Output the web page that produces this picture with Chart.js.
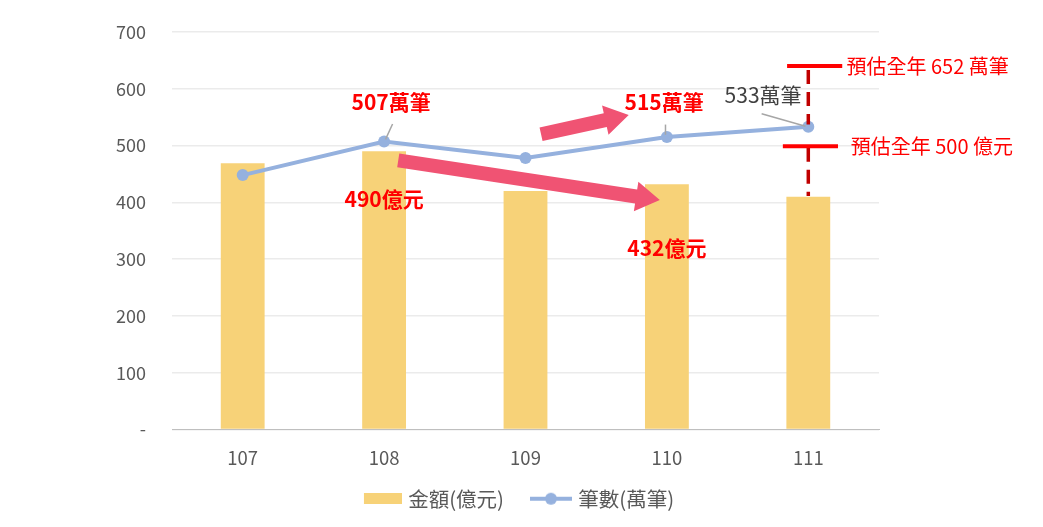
<!DOCTYPE html>
<html>
<head>
<meta charset="utf-8">
<script src="https://cdn.jsdelivr.net/npm/chart.js@4.4.1/dist/chart.umd.min.js"></script>
<style>
  html, body { margin: 0; padding: 0; background: #fff; }
  #wrap { width: 1043px; height: 527px; }
</style>
</head>
<body>
<div id="wrap"><canvas id="chart" width="1043" height="527"></canvas></div>
<script>
// Chart data
const years = ['107', '108', '109', '110', '111'];
const amounts = [469, 490, 420, 432, 410];   // 金額(億元)
const counts = [448, 507, 478, 515, 533];    // 筆數(萬筆)
const yTicks = [0, 100, 200, 300, 400, 500, 600, 700];

// Annotation layout in data space (category index, value)
const redLabels = [
  { text: '507萬筆', x: 1.05, y: 577, color: '#FF0000', bold: true },
  { text: '490億元', x: 1.0, y: 406, color: '#FF0000', bold: true },
  { text: '515萬筆', x: 2.98, y: 577, color: '#FF0000', bold: true },
  { text: '432億元', x: 3.0, y: 319, color: '#FF0000', bold: true },
  { text: '533萬筆', x: 3.68, y: 589, color: '#404040', bold: false }
];
const leaders = [
  [1.06, 538, 1.01, 511],
  [2.99, 537, 2.99, 519],
  [3.67, 556, 3.98, 534]
];
const arrows = [
  [1.10, 474, 2.95, 404],
  [2.11, 520, 2.73, 554]
];
const forecasts = [
  { text: '預估全年 652 萬筆', value: 640, x1: 3.85, x2: 4.24, lx: 4.27 },
  { text: '預估全年 500 億元', value: 499, x1: 3.82, x2: 4.21, lx: 4.30 }
];
const dashSegments = [[633, 537], [496, 411]];

const FONT = '"Noto Sans CJK TC", "Noto Sans", sans-serif';
const SWATCH_W = 53;   // legend box width
const IMG_W = 61;      // swatch image, a bit wider than the box so it sits close to the text

// legend swatches (transparent on the left to space the items out)
function lineSwatch() {
  const c = document.createElement('canvas');
  c.width = IMG_W; c.height = 14;
  const g = c.getContext('2d');
  g.strokeStyle = '#95B1DE';
  g.lineWidth = 4;
  g.beginPath(); g.moveTo(IMG_W - 42, 7); g.lineTo(IMG_W, 7); g.stroke();
  g.fillStyle = '#95B1DE';
  g.beginPath(); g.arc(IMG_W - 21, 7, 6, 0, Math.PI * 2); g.fill();
  return c;
}
function barSwatch() {
  const c = document.createElement('canvas');
  c.width = IMG_W; c.height = 11;
  const g = c.getContext('2d');
  g.fillStyle = '#F7D278';
  g.fillRect(IMG_W - 38, 0, 38, 11);
  return c;
}

const annotatePlugin = {
  id: 'annotate',
  afterDatasetsDraw(chart) {
    const ctx = chart.ctx;
    const xs = chart.scales.x, ys = chart.scales.y;
    const px = v => xs.getPixelForValue(v);
    const py = v => ys.getPixelForValue(v);
    ctx.save();

    // arrows
    ctx.fillStyle = '#F05373';
    arrows.forEach(a => {
      const x1 = px(a[0]), y1 = py(a[1]), x2 = px(a[2]), y2 = py(a[3]);
      const ang = Math.atan2(y2 - y1, x2 - x1);
      const len = Math.hypot(x2 - x1, y2 - y1);
      const head = 24, sw = 7, hw = 15;
      ctx.save();
      ctx.translate(x1, y1);
      ctx.rotate(ang);
      ctx.beginPath();
      ctx.moveTo(0, -sw);
      ctx.lineTo(len - head, -sw);
      ctx.lineTo(len - head, -hw);
      ctx.lineTo(len, 0);
      ctx.lineTo(len - head, hw);
      ctx.lineTo(len - head, sw);
      ctx.lineTo(0, sw);
      ctx.closePath();
      ctx.fill();
      ctx.restore();
    });

    // leader lines
    ctx.strokeStyle = '#A6A6A6';
    ctx.lineWidth = 1.5;
    leaders.forEach(l => {
      ctx.beginPath();
      ctx.moveTo(px(l[0]), py(l[1]));
      ctx.lineTo(px(l[2]), py(l[3]));
      ctx.stroke();
    });

    // forecast dashed line at last year
    const lx = px(4);
    ctx.strokeStyle = '#C00000';
    ctx.lineWidth = 3.5;
    ctx.setLineDash([14, 8]);
    dashSegments.forEach(s => {
      ctx.beginPath();
      ctx.moveTo(lx, py(s[0]));
      ctx.lineTo(lx, py(s[1]));
      ctx.stroke();
    });
    ctx.setLineDash([]);

    ctx.strokeStyle = '#FF0000';
    ctx.lineWidth = 4;
    ctx.font = '20px ' + FONT;
    ctx.textBaseline = 'middle';
    ctx.textAlign = 'left';
    forecasts.forEach(f => {
      const y = py(f.value);
      ctx.beginPath();
      ctx.moveTo(px(f.x1), y);
      ctx.lineTo(px(f.x2), y);
      ctx.stroke();
      ctx.fillStyle = '#FF0000';
      ctx.fillText(f.text, px(f.lx), y);
    });

    // value labels
    ctx.textAlign = 'center';
    redLabels.forEach(l => {
      ctx.font = (l.bold ? 'bold ' : '') + '21px ' + FONT;
      ctx.fillStyle = l.color;
      ctx.fillText(l.text, px(l.x), py(l.y));
    });
    ctx.restore();
  }
};

new Chart(document.getElementById('chart'), {
  data: {
    labels: years,
    datasets: [
      {
        type: 'line',
        label: '筆數(萬筆)',
        data: counts,
        borderColor: '#95B1DE',
        backgroundColor: '#95B1DE',
        borderWidth: 4,
        pointRadius: 6,
        pointBackgroundColor: '#95B1DE',
        pointBorderWidth: 0,
        tension: 0,
        order: 1
      },
      {
        type: 'bar',
        label: '金額(億元)',
        data: amounts,
        backgroundColor: '#F7D278',
        categoryPercentage: 1,
        barPercentage: 0.31,
        order: 2
      }
    ]
  },
  options: {
    responsive: false,
    animation: false,
    layout: { padding: { left: 0, right: 24, top: 32, bottom: 8 } },
    scales: {
      x: {
        grid: { display: false },
        border: { color: '#BFBFBF', width: 1 },
        ticks: { color: '#595959', font: { family: FONT, size: 18.5 }, padding: 9 },
        afterFit: s => { s.height = 48; s.paddingLeft = 0; s.paddingRight = 0; }
      },
      y: {
        min: 0, max: 700,
        afterBuildTicks: s => { s.ticks = yTicks.map(v => ({ value: v })); },
        grid: { color: '#EBEBEB', lineWidth: 1.5, drawTicks: false },
        border: { display: false },
        ticks: {
          color: '#595959',
          font: { family: FONT, size: 18 },
          padding: 26,
          callback: v => v === 0 ? '-' : String(v)
        },
        afterFit: s => { s.width = 172; s.paddingTop = 0; s.paddingBottom = 0; }
      },
      // empty right-hand gutter that reserves room for the forecast notes
      gutter: {
        type: 'linear',
        position: 'right',
        display: true,
        grid: { display: false },
        border: { display: false },
        ticks: { display: false },
        afterFit: s => { s.width = 140; s.paddingTop = 0; s.paddingBottom = 0; }
      }
    },
    plugins: {
      tooltip: { enabled: false },
      legend: {
        position: 'bottom',
        reverse: true,
        labels: {
          color: '#595959',
          font: { family: FONT, size: 20.5 },
          usePointStyle: true,
          pointStyleWidth: SWATCH_W,
          padding: 11,
          generateLabels: chart => chart.data.datasets.map((d, i) => ({
            text: d.label,
            datasetIndex: i,
            pointStyle: d.type === 'line' ? lineSwatch() : barSwatch(),
            fontColor: '#595959',
            hidden: false
          }))
        }
      }
    }
  },
  plugins: [annotatePlugin]
});
</script>
</body>
</html>
